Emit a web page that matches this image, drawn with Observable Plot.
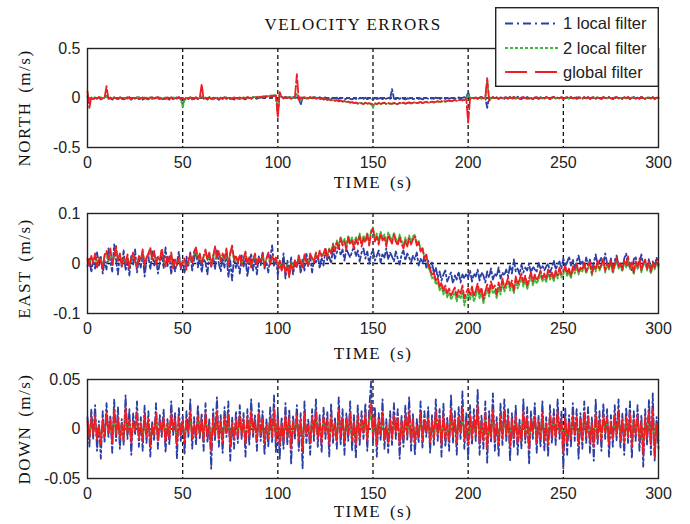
<!DOCTYPE html>
<html><head><meta charset="utf-8">
<script src="https://cdn.jsdelivr.net/npm/d3@7"></script>
<script src="https://cdn.jsdelivr.net/npm/@observablehq/plot@0.6"></script>
<style>
body{margin:0;background:#fff;}
#chart{position:relative;width:690px;height:524px;overflow:hidden;background:#fff;}
.panel{position:absolute;left:0;}
#title{position:absolute;left:353px;top:15px;transform:translateX(-50%);font:17px "Liberation Serif","Times New Roman",serif;letter-spacing:1.5px;line-height:20px;white-space:nowrap;color:#111;}
#legend{position:absolute;left:495px;top:7px;}
</style></head><body><div id="chart"></div><script>
// values in mm/s (divided by 1000 to give m/s), sampled every 1 s (t = 0..300)
const northBlue = [
10,-12,4,-18,2,-8,6,-14,0,-6,20,-10,-2,-16,4,-8,-12,2,-6,-14,
-4,6,-10,-16,0,-6,8,-12,-4,-18,2,-8,-14,4,-6,-10,6,-16,-2,-8,
-12,4,-6,-16,2,-10,-4,6,-14,-8,-60,-20,0,-10,4,-14,-6,2,-12,-4,
8,-10,-2,-16,4,-8,-14,0,-6,-18,2,-10,-4,6,-12,-8,-2,-16,4,-6,
-10,0,-6,-14,4,-4,-10,6,-2,-8,8,2,12,6,16,10,20,14,24,18,
-150,40,10,0,12,-4,8,2,14,-2,6,10,-70,4,12,-6,8,2,-4,10,
4,-6,8,0,-4,6,-10,2,-6,-2,-8,4,-10,-4,2,-12,-6,0,-8,-14,
-2,-8,-14,0,-6,-10,4,-12,-4,-8,-16,-2,-10,-6,2,-12,-4,-8,0,-10,
90,-6,-12,-2,-8,4,-10,-14,-4,-6,0,-12,-8,2,-10,-4,-14,-6,0,-8,
-10,-2,-8,4,-6,-12,0,-4,-10,2,-6,-2,4,-8,0,6,-4,2,8,4,
60,-10,6,-4,10,-8,2,12,-6,4,-100,8,-4,10,-6,2,-10,6,0,-8,
8,-4,12,-10,2,-6,14,-2,-12,6,-4,10,-8,0,-14,6,2,-10,8,-4,
-6,10,-2,-12,4,8,-8,0,-4,12,-10,2,6,-6,10,-12,0,8,-4,4,
-8,6,-2,10,-10,4,0,-6,12,-4,-10,6,2,-8,10,-2,-12,4,8,-6,
2,-10,8,-4,6,-12,0,10,-6,4,-8,12,-2,-10,6,0,-6,8,-12,4,
2];
const northGreen = [
20,-10,6,-4,10,-8,2,8,-6,4,12,-2,6,-10,4,0,-8,10,-4,2,
-6,8,-2,-10,6,0,-4,10,-8,2,6,-6,0,8,-10,-2,4,-8,6,0,
-4,8,-6,2,-10,6,0,-4,8,-6,-95,-20,2,-6,8,-2,-8,4,-4,6,
20,-8,4,-6,10,-2,-10,6,0,-8,4,-4,8,-6,2,-10,6,-2,4,-8,
2,-6,8,0,-4,10,2,6,12,4,14,8,18,12,22,16,26,20,30,24,
-120,50,14,4,-2,10,0,8,-4,6,40,8,-30,2,10,-4,6,-2,8,0,
-4,2,-10,-6,-14,-8,-18,-12,-22,-16,-26,-20,-32,-24,-36,-30,-42,-34,-46,-40,
-50,-44,-56,-48,-52,-60,-46,-58,-54,-62,-100,-56,-60,-52,-64,-56,-50,-62,-54,-58,
-60,-52,-58,-64,-50,-56,-48,-60,-52,-46,-56,-50,-44,-54,-48,-42,-52,-46,-40,-50,
-44,-38,-46,-40,-34,-42,-36,-30,-38,-32,-26,-34,-28,-22,-30,-24,-18,-26,-20,-12,
30,-8,4,-6,8,-2,6,-10,2,-4,180,-20,-6,6,-2,8,-8,2,-4,6,
0,-8,6,-4,10,-6,2,-10,4,8,-2,-8,6,0,-12,4,8,-6,2,-4,
-8,6,0,-10,4,10,-6,2,-4,8,-12,0,6,-8,8,-4,2,-10,6,0,
-6,8,-4,6,-10,2,8,-8,4,-2,-10,8,0,-6,6,-4,-10,2,8,-6,
4,-8,6,-2,8,-10,2,6,-8,0,-6,10,-4,-8,4,2,-4,6,-10,2,
0];
const northRed = [
70,-100,8,-10,4,-6,10,-12,2,6,120,-8,4,-12,8,-4,-10,6,-2,-8,
4,-6,10,-12,2,-4,8,-10,0,6,-8,4,-12,2,8,-6,-2,10,-8,4,
-2,-10,6,-4,8,-12,2,-6,10,-8,0,-14,4,-8,6,-2,-10,8,-6,2,
140,-12,2,-8,6,-10,4,-4,10,-12,0,-6,8,-10,4,-2,-12,6,-4,0,
6,-8,2,-4,10,0,-6,8,4,10,2,12,6,16,10,20,14,24,18,28,
-200,60,16,-6,10,-2,8,-8,4,12,240,-20,6,-4,8,0,-6,10,-2,4,
-6,-2,-12,-4,-16,-10,-20,-14,-24,-18,-28,-22,-34,-26,-38,-30,-44,-36,-48,-42,
-52,-46,-58,-50,-54,-62,-48,-56,-52,-60,-58,-54,-62,-50,-58,-52,-48,-60,-50,-56,
-58,-50,-56,-60,-48,-54,-46,-58,-50,-44,-54,-48,-42,-52,-46,-40,-50,-44,-38,-46,
-42,-36,-44,-38,-32,-40,-34,-28,-36,-30,-24,-32,-26,-20,-28,-22,-16,-24,-18,-10,
-250,-6,8,-2,6,-8,4,10,-4,2,200,-30,-4,8,0,6,-10,4,-2,8,
2,-6,8,-2,12,-4,4,-8,6,10,0,-6,8,2,-10,6,10,-4,4,-2,
-6,8,2,-8,6,12,-4,4,-2,10,-10,2,8,-6,10,-2,4,-8,8,2,
-4,10,-2,8,-8,4,10,-6,6,0,-8,10,2,-4,8,-2,-8,4,10,-4,
6,-6,8,0,10,-8,4,8,-6,2,-4,12,-2,-6,6,4,-2,8,-8,4,
-2];
const eastBlue = [
-5,12,-18,8,-10,22,-4,14,-20,6,-12,30,2,-16,38,8,-22,18,-6,26,
-14,4,-24,16,-2,28,-18,10,-8,20,-26,6,14,-12,24,-4,12,-20,2,18,
-10,32,-6,14,-22,10,-16,2,24,-12,6,-20,14,-4,22,-14,8,28,-8,16,
-18,10,2,-22,20,-6,16,-12,26,0,-16,12,-8,22,-28,6,-34,14,-10,4,
-20,16,-6,10,-26,2,18,-14,8,-22,14,-4,24,-10,4,-18,12,36,-6,10,
-24,4,-12,20,-30,6,-16,12,-22,0,-8,16,-20,10,-14,22,-6,14,-18,8,
2,18,-10,12,-4,26,6,14,0,30,10,22,36,16,28,6,30,20,12,24,
34,14,26,4,22,30,10,24,0,18,28,6,16,26,2,20,12,30,8,22,
14,4,24,10,-2,18,26,6,20,12,2,16,8,22,-4,10,0,14,-8,6,
-12,2,-20,-8,-28,-16,-34,-22,-14,-36,-26,-18,-40,-24,-32,-16,-38,-22,-30,-20,
-28,-14,-36,-20,-26,-12,-34,-18,-24,-38,-16,-28,-10,-32,-20,-26,-8,-30,-18,-24,
-12,-26,-4,-20,8,-16,-10,-22,-2,-18,-8,-14,0,-20,-6,-12,-16,2,-10,-4,
-14,-6,0,-18,-8,6,-12,-2,4,-10,10,-6,2,14,-4,8,-8,4,16,-2,
6,-10,12,-4,8,-14,2,18,-6,4,12,-2,20,0,-8,10,-12,6,16,-4,
2,-14,10,20,-6,4,-16,8,14,-10,0,18,-4,6,-12,10,-20,4,-6,12,
-2];
const eastGreen = [
6,0,12,4,16,-4,8,10,-6,14,20,4,24,2,12,28,8,16,-2,10,
4,14,-6,8,18,6,-4,12,8,22,0,10,16,26,10,20,2,12,8,24,
8,-2,12,4,18,-6,6,0,10,-4,2,8,-8,4,14,4,20,26,8,16,
2,12,22,6,18,-2,12,28,10,22,6,16,8,24,0,18,30,6,14,4,
14,0,8,20,2,12,-4,6,16,0,10,6,14,-2,8,18,0,12,8,10,
-4,4,-10,0,-14,-2,-22,2,-8,6,-4,10,4,-6,14,6,-2,16,12,4,
20,10,24,16,20,30,16,30,24,40,28,46,36,54,40,50,34,56,44,52,
36,54,44,60,40,56,48,62,42,66,72,50,60,44,64,52,58,40,62,54,
46,62,50,42,58,46,36,52,40,56,44,54,58,40,46,28,32,12,16,-8,
-16,-30,-26,-42,-36,-54,-46,-62,-52,-68,-58,-72,-64,-58,-76,-62,-70,-56,-84,-68,
-60,-72,-56,-76,-64,-50,-70,-58,-80,-64,-52,-66,-46,-60,-54,-70,-48,-62,-40,-56,
-48,-36,-54,-42,-60,-34,-50,-40,-28,-46,-32,-52,-38,-26,-44,-30,-40,-32,-22,-36,
-26,-38,-18,-32,-24,-36,-20,-30,-14,-28,-22,-10,-26,-16,-30,-12,-20,-6,-22,-12,
-16,-4,-20,-10,-2,-24,-8,-16,0,-14,-6,4,-18,-4,-12,2,-20,-6,6,-10,
-4,-16,2,-8,8,-12,-2,-22,0,-10,4,-18,-4,2,-14,0,-20,-2,-12,2,
-8];
const eastRed = [
10,-5,15,0,20,-8,12,5,-10,18,25,8,30,-2,15,35,5,20,-6,12,
0,18,-10,10,22,4,-8,15,6,28,-4,12,20,32,8,25,-2,14,6,30,
10,-6,16,2,22,-10,8,-4,12,-8,4,10,-12,6,18,2,24,32,10,20,
0,15,28,8,22,-6,14,34,12,26,4,20,10,30,-4,22,36,8,16,2,
18,-4,10,24,0,14,-8,8,20,-2,12,4,18,-6,10,22,-2,16,6,12,
-8,6,-14,2,-18,-4,-28,0,-12,8,-6,14,2,-10,18,4,-4,20,10,2,
22,8,26,14,18,32,12,28,20,38,24,42,30,50,36,44,28,52,38,46,
30,48,38,56,34,50,42,58,36,62,70,44,54,38,60,46,52,34,56,48,
40,58,44,36,52,40,30,46,34,50,38,48,54,36,42,24,30,10,18,-4,
-10,-24,-18,-34,-28,-46,-38,-54,-44,-60,-50,-64,-56,-48,-66,-52,-60,-44,-70,-58,
-50,-62,-46,-66,-54,-40,-60,-48,-72,-56,-42,-58,-36,-50,-44,-62,-38,-52,-30,-48,
-40,-28,-46,-34,-54,-26,-42,-32,-20,-38,-24,-44,-30,-18,-36,-22,-34,-26,-14,-30,
-20,-32,-12,-26,-18,-30,-14,-24,-8,-22,-16,-4,-20,-10,-26,-6,-14,0,-18,-8,
-12,2,-16,-6,4,-20,-4,-12,6,-10,-2,10,-14,0,-8,8,-16,-2,12,-6,
0,-12,6,-4,14,-8,2,-18,4,-6,10,-14,0,8,-10,4,-16,2,-8,6,
-4];
const downBlue = [
12,-18,20,-10,24,-22,8,-30,18,-14,26,-8,14,-24,30,-12,22,-20,10,-16,
34,-10,20,-26,16,-6,28,-18,12,-22,24,-14,18,-28,8,-12,26,-20,14,-8,
20,-24,10,-16,28,-6,16,-30,22,-12,14,-26,18,-8,30,-20,12,-16,24,-10,
16,-22,26,-14,10,-40,20,-12,32,-18,14,-24,22,-8,28,-32,12,-20,18,-14,
24,-10,16,-28,20,-16,30,-8,14,-22,26,-12,18,-26,10,-18,22,-14,34,-24,
18,-30,12,-20,26,-16,20,-36,14,-10,24,-22,16,-40,28,-14,10,-26,20,-12,
30,-18,14,-24,22,-10,18,-28,26,-14,12,-20,32,-16,20,-26,16,-12,28,-22,
14,-30,24,-16,18,-10,26,-22,20,48,-14,22,-28,16,-12,30,-20,10,-24,18,
-16,26,-10,20,-30,14,-18,24,-12,32,-22,16,-26,10,-14,28,-20,18,-8,22,
-24,14,-16,30,-12,20,-28,26,-18,12,-22,34,-14,18,-26,22,-10,38,-20,16,
-30,24,-16,20,-12,40,-26,14,-20,28,-34,18,-14,36,-22,12,-28,26,-16,30,
-12,20,-32,16,-18,24,-26,10,-20,30,-14,22,-36,18,-10,26,-24,14,-18,28,
-22,12,-28,24,-14,20,-16,30,-10,18,-40,22,-26,14,-18,26,-12,20,-30,16,
-20,28,-14,22,-24,12,-32,30,-16,18,-22,26,-10,20,-28,14,-18,24,-12,30,
-20,16,-26,22,-14,28,-30,18,-12,24,-22,14,-38,20,-16,30,-26,36,-32,12,
-20];
const downGreen = [
4,-6,8,-2,6,-8,2,-10,6,-4,10,-2,6,-8,12,-4,8,-6,2,-8,
12,-2,6,-8,4,0,10,-6,4,-8,8,-4,6,-10,2,-4,10,-8,4,-2,
8,-8,4,-6,10,0,6,-10,8,-4,4,-8,6,-2,10,-6,4,-4,8,-4,
6,-8,10,-4,2,-12,8,-4,10,-6,4,-8,8,-2,10,-10,4,-6,6,-4,
8,-4,6,-10,8,-4,10,-2,4,-8,10,-4,6,-8,2,-6,8,-4,12,-8,
6,-10,4,-8,8,-4,8,-12,4,-2,8,-8,6,-12,10,-4,2,-8,8,-4,
10,-6,4,-8,8,-2,6,-10,8,-4,4,-8,12,-4,8,-8,6,-4,10,-8,
4,-10,8,-6,6,-2,10,-8,8,14,-4,8,-10,6,-4,10,-8,2,-8,6,
-6,8,-2,8,-10,4,-6,8,-4,10,-8,6,-8,2,-4,10,-8,6,-2,8,
-8,4,-6,10,-4,8,-10,8,-6,4,-8,12,-4,6,-8,8,-2,12,-8,4,
-10,8,-6,8,-4,14,-8,4,-8,10,-12,6,-4,12,-8,4,-10,8,-6,10,
-4,8,-10,6,-6,8,-8,2,-8,10,-4,8,-12,6,-2,8,-8,4,-6,10,
-8,4,-10,8,-4,8,-6,10,-2,6,-14,8,-8,4,-6,8,-4,8,-10,6,
-8,10,-4,8,-8,4,-10,10,-6,6,-8,8,-2,8,-10,4,-6,8,-4,10,
-8,6,-8,8,-4,10,-10,6,-4,8,-8,4,-14,8,-6,10,-10,12,-14,4,
-6];
const downRed = [
8,-10,12,-6,14,-12,4,-16,10,-8,16,-4,10,-14,20,-6,12,-10,6,-12,
22,-4,10,-14,8,-2,16,-10,6,-12,14,-8,10,-18,4,-6,16,-12,8,-4,
12,-14,6,-10,16,-2,10,-16,12,-6,8,-14,10,-4,18,-10,6,-8,14,-6,
10,-12,16,-8,4,-22,12,-6,18,-10,8,-14,12,-4,16,-18,6,-10,10,-8,
14,-6,10,-16,12,-8,18,-4,8,-12,16,-6,10,-14,4,-10,12,-8,20,-12,
10,-16,6,-12,14,-8,12,-20,8,-4,14,-12,10,-22,16,-6,4,-14,12,-6,
18,-10,8,-14,12,-4,10,-16,14,-8,6,-12,20,-8,12,-14,10,-6,16,-12,
8,-16,14,-10,10,-4,16,-12,12,26,-8,12,-16,10,-6,18,-12,4,-14,10,
-10,14,-4,12,-16,8,-10,14,-6,18,-12,10,-14,4,-8,16,-12,10,-4,12,
-14,8,-10,18,-6,12,-16,14,-10,6,-12,20,-8,10,-14,12,-4,22,-12,8,
-16,14,-10,12,-6,24,-14,8,-12,16,-20,10,-8,20,-12,6,-16,14,-10,18,
-6,12,-18,10,-10,14,-14,4,-12,18,-8,12,-20,10,-4,14,-14,8,-10,16,
-12,6,-16,14,-8,12,-10,18,-4,10,-24,12,-14,8,-10,14,-6,12,-16,10,
-12,16,-8,12,-14,6,-18,16,-10,10,-12,14,-4,12,-16,8,-10,14,-6,18,
-12,10,-14,12,-8,16,-18,10,-6,14,-12,8,-26,12,-10,18,-16,20,-28,6,
-12];

const seriesNames = ["1 local filter", "2 local filter", "global filter"];
const xTicks = [0, 50, 100, 150, 200, 250, 300];
const gridX = [50, 100, 150, 200, 250];
const northTicks = [-0.5, 0, 0.5];
const eastTicks = [-0.1, 0, 0.1];
const downTicks = [-0.05, 0, 0.05];

// styles
const colors = ["#2c3fa4", "#3cb83a", "#ee1d25"];
const dashes = ["7,3,2,3", "2,2", "12,3"];
const serif = "'Liberation Serif','Times New Roman',serif";
const sans = "'Liberation Sans',Arial,sans-serif";

function panel(cfg) {
  const rows = cfg.values.map((arr, k) => arr.map((v, i) => ({t: i, v: v / 1000, s: seriesNames[k]})));
  const svg = Plot.plot({
    width: 690, height: cfg.height,
    marginTop: cfg.mt, marginBottom: cfg.mb, marginLeft: 87, marginRight: 32,
    x: {domain: [0, 300]},
    y: {domain: cfg.domain},
    style: {fontFamily: sans, fontSize: "16px", background: "transparent", overflow: "visible"},
    marks: [
      Plot.ruleX(gridX, {stroke: "#111", strokeWidth: 1.3, strokeDasharray: "4,3"}),
      Plot.ruleY([0], {stroke: "#111", strokeWidth: 1.3, strokeDasharray: "4,3"}),
      ...rows.map((r, k) => Plot.line(r, {x: "t", y: "v", stroke: colors[k], strokeWidth: 1.8, strokeDasharray: dashes[k]})),
      Plot.frame({stroke: "#222", strokeWidth: 1.4}),
      Plot.axisX({ticks: xTicks, tickSize: 0, tickPadding: 9, tickFormat: d => String(d), fontSize: 16, color: "#222", label: null}),
      Plot.axisY({ticks: cfg.ticks, tickSize: 0, tickPadding: 7, tickFormat: d => String(d), fontSize: 16, color: "#222", label: null}),
      Plot.text([cfg.ylabel], {text: d => d, frameAnchor: "left", textAnchor: "middle", lineAnchor: "middle", dx: -63, dy: cfg.ydy, rotate: -90, fontFamily: serif, fontSize: 17, fill: "#111"}),
      Plot.text(["TIME (s)"], {text: d => d, frameAnchor: "bottom", textAnchor: "middle", lineAnchor: "middle", dy: cfg.xdy, fontFamily: serif, fontSize: 17, fill: "#111"})
    ]
  });
  d3.select(svg).selectAll("text")
    .filter(function() { return this.textContent === cfg.ylabel || this.textContent === "TIME (s)"; })
    .style("letter-spacing", "1.5px").style("word-spacing", "3px");
  return svg;
}

const chart = document.getElementById("chart");
const cfgs = [
  {top: 0, height: 190, mt: 48, mb: 43, domain: [-0.5, 0.5], ticks: northTicks, ylabel: "NORTH (m/s)", ydy: 10, xdy: 35, values: [northBlue, northGreen, northRed]},
  {top: 190, height: 170, mt: 23, mb: 47, domain: [-0.1, 0.1], ticks: eastTicks, ylabel: "EAST (m/s)", ydy: 5, xdy: 40, values: [eastBlue, eastGreen, eastRed]},
  {top: 360, height: 164, mt: 19, mb: 46, domain: [-0.05, 0.05], ticks: downTicks, ylabel: "DOWN (m/s)", ydy: 0, xdy: 33, values: [downBlue, downGreen, downRed]}
];
for (const c of cfgs) {
  const div = document.createElement("div");
  div.className = "panel";
  div.style.top = c.top + "px";
  div.appendChild(panel(c));
  chart.appendChild(div);
}

const title = document.createElement("div");
title.id = "title";
title.textContent = "VELOCITY ERRORS";
chart.appendChild(title);

// legend
const lg = d3.create("svg").attr("id", "legend").attr("width", 164).attr("height", 80);
lg.append("rect").attr("x", 0.7).attr("y", 0.7).attr("width", 162.6).attr("height", 78.6).attr("fill", "#fff").attr("stroke", "#222").attr("stroke-width", 1.4);
const legendDash = ["8,4,2,4", "3,2", "22,8"];
seriesNames.forEach((name, k) => {
  const y = [16.5, 41, 65][k];
  lg.append("line").attr("x1", 10).attr("x2", 63).attr("y1", y).attr("y2", y).attr("stroke", colors[k]).attr("stroke-width", 1.8).attr("stroke-dasharray", legendDash[k]);
  lg.append("text").attr("x", 68).attr("y", y).attr("dy", "0.35em").attr("font-family", sans).attr("font-size", 16.5).attr("fill", "#222").text(name);
});
chart.appendChild(lg.node());
</script></body></html>
